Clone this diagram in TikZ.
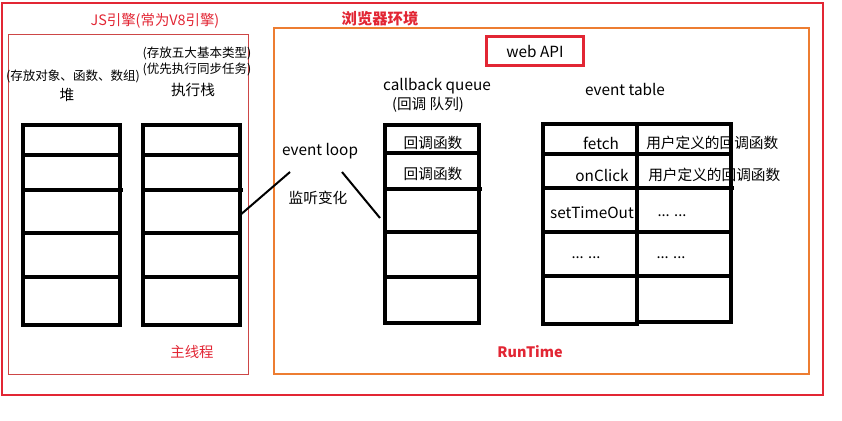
\documentclass[tikz,border=0pt]{standalone}
\usepackage{fontspec}
\setmainfont{Noto Sans CJK SC}
\definecolor{myred}{RGB}{226,38,52}
\definecolor{thinred}{RGB}{205,70,70}
\definecolor{myorange}{RGB}{237,125,49}
\tikzset{
  tbl/.style={line width=3pt, line cap=rect},
  sep/.style={line width=3pt},
  txt/.style={inner sep=0pt, font=\fontsize{11}{13}\selectfont},
  lat/.style={inner sep=0pt, font=\fontsize{11.5}{13}\selectfont},
  small/.style={inner sep=0pt, font=\fontsize{9.4}{11}\selectfont},
  redlbl/.style={inner sep=0pt, text=myred, font=\fontsize{10.8}{12}\selectfont},
  link/.style={line width=1.5pt},
}
\begin{document}
\begin{tikzpicture}[x=0.75pt,y=-0.75pt]
\useasboundingbox (0,0) rectangle (842,421);
% frames
\draw[myred, line width=2.2pt] (2,3) rectangle (823,395);
\draw[thinred, line width=0.75pt] (8,34) rectangle (248,374);
\draw[myorange, line width=2.2pt] (274,28) rectangle (809,374);
\node[draw=myred, line width=2.2pt, minimum width=73pt, minimum height=22pt, inner sep=0pt, font=\fontsize{11.5}{13}\selectfont] (webapi) at (535,51) {web API};
% titles
\node[redlbl] (jsengine) at (155,21) {JS引擎(常为V8引擎)};
\node[inner sep=0pt, text=myred, font=\fontsize{11.5}{13}\selectfont\bfseries] (browser) at (380,19) {浏览器环境};
\node[redlbl] (mainthread) at (192,352) {主线程};
\node[inner sep=0pt, text=myred, font=\fontsize{10.8}{12}\selectfont\bfseries] (runtime) at (530,352) {RunTime};
% heap
\node[small] (heapnote) at (73,76) {(存放对象、函数、数组)};
\node[txt] (heaplbl) at (67,95) {堆};
\draw[tbl] (23,125) rectangle (120,325);
\draw[sep] (23,155) -- (120,155);
\draw[sep] (23,190) -- (123,190);
\draw[sep] (23,233) -- (122,233);
\draw[sep] (23,277) -- (120,277);
% stack
\node[small] (stacknote1) at (197,53) {(存放五大基本类型)};
\node[small] (stacknote2) at (197,69) {(优先执行同步任务)};
\node[txt] (stacklbl) at (193,90) {执行栈};
\draw[tbl] (143,125) rectangle (240,325);
\draw[sep] (143,155) -- (240,155);
\draw[sep] (143,190) -- (243,190);
\draw[sep] (143,233) -- (242,233);
\draw[sep] (143,277) -- (240,277);
\coordinate (stackedge) at (239,216);
% event loop
\node[lat] (eventloop) at (320,151) {event loop};
\node[txt] (listen) at (318,198) {监听变化};
\coordinate (loopL) at (290,172);
\coordinate (loopR) at (342,172);
\coordinate (queueedge) at (380,218);
\draw[link] (stackedge) -- (loopL);
\draw[link] (loopR) -- (queueedge);
% callback queue
\node[lat] (cbq) at (437,86) {callback queue};
\node[txt] (cbqcn) at (428,105) {(回调 队列)};
\draw[tbl] (385,125) rectangle (479,323);
\draw[sep] (385,153) -- (479,153);
\draw[sep] (385,189) -- (482,189);
\draw[sep] (385,232) -- (481,232);
\draw[sep] (385,277) -- (479,277);
\node[txt] (cb1) at (433,143) {回调函数};
\node[txt] (cb2) at (433,174) {回调函数};
% event table
\node[lat] (etlbl) at (625,89) {event table};
\draw[tbl] (543,124) rectangle (637,324);
\draw[tbl] (637,124) rectangle (731,322);
\draw[sep] (543,154) -- (731,154);
\draw[sep] (543,188) -- (734,188);
\draw[sep] (543,232) -- (731,232);
\draw[sep] (543,276) -- (731,276);
\node[lat] (fetch) at (601,143) {fetch};
\node[txt, anchor=west] (cbu1) at (646,143) {用户定义的回调函数};
\node[lat] (onclick) at (602,175) {onClick};
\node[txt, anchor=west] (cbu2) at (648,175) {用户定义的回调函数};
\node[lat] (settimeout) at (592,213) {setTimeOut};
\node[txt] (dots1) at (672,216) {... ...};
\node[txt] (dots2) at (586,258) {... ...};
\node[txt] (dots3) at (671,258) {... ...};
\end{tikzpicture}
\end{document}
